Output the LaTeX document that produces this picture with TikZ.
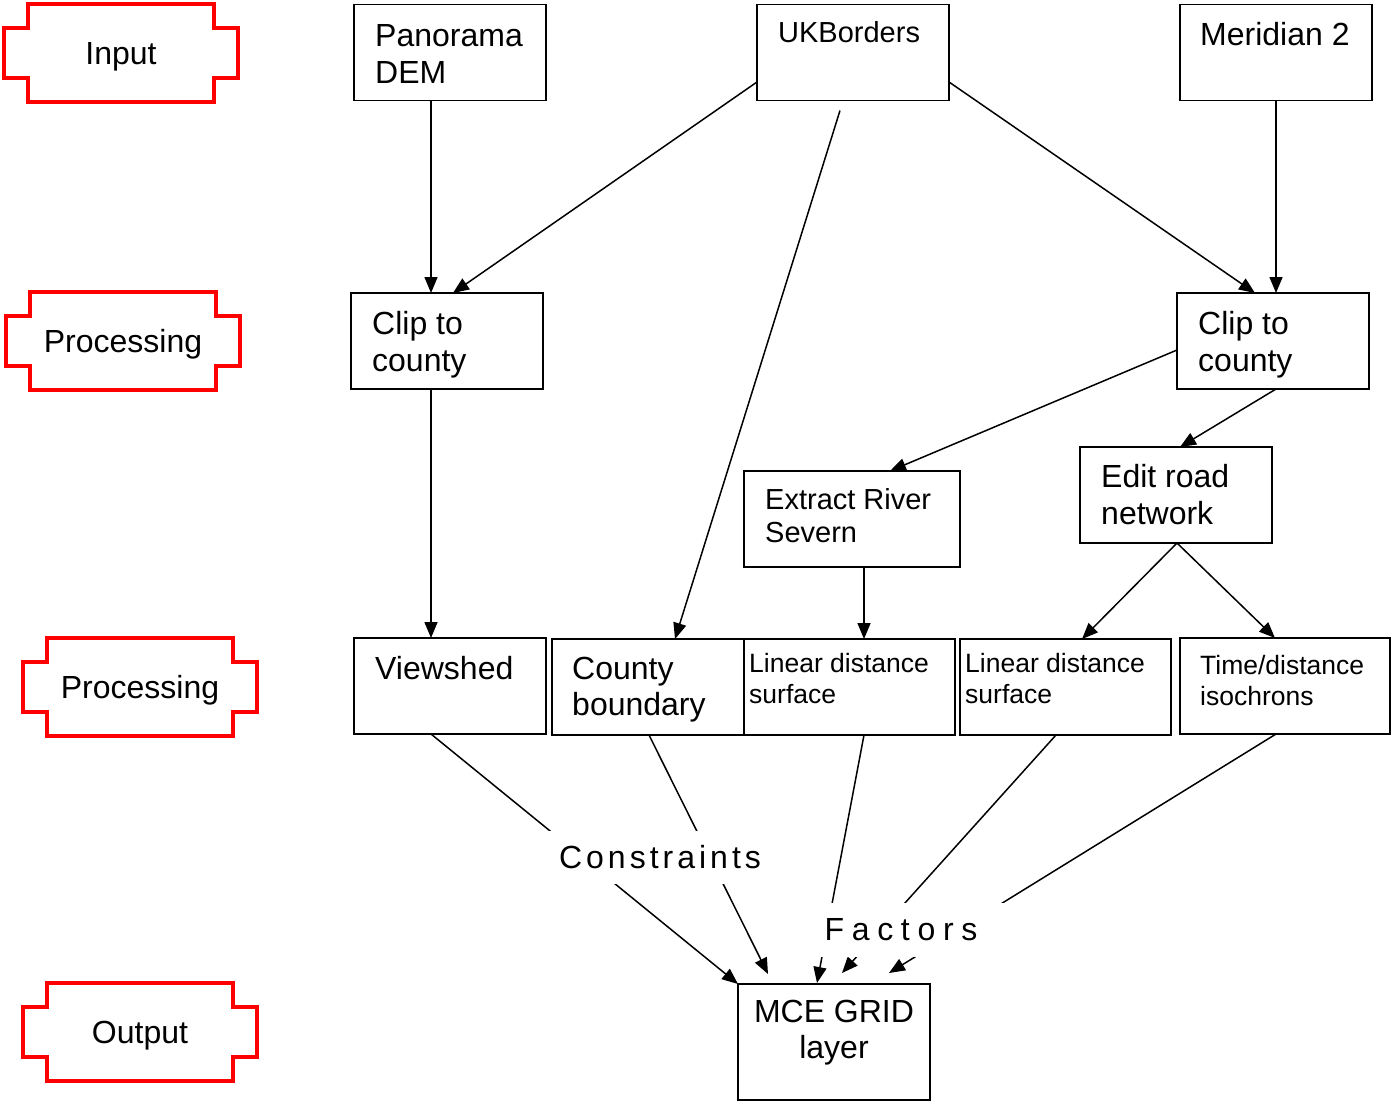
\documentclass[tikz,border=0pt]{standalone}
\usepackage{fontspec}
\setmainfont{Liberation Sans}
\usetikzlibrary{arrows.meta,calc}
\begin{document}
\begin{tikzpicture}[x=1pt,y=-1pt,
  box/.style={draw=black,line width=1.8pt,inner sep=0pt,outer sep=0pt,minimum width=192pt,minimum height=96pt},
  txt/.style={inner sep=0pt,anchor=north west,align=left,font=\fontsize{32}{36.5}\selectfont},
  smalltxt/.style={txt,font=\fontsize{26.5}{31}\selectfont},
  midtxt/.style={txt,font=\fontsize{29}{33}\selectfont},
  conn/.style={line width=1.5pt,draw=black},
  arr/.style={conn,-{Triangle[length=16pt,width=13pt]}},
  stagebox/.style={draw=red,line width=4pt},
  stagetxt/.style={inner sep=0pt,anchor=base,font=\fontsize{32}{36}\selectfont},
  gaplabel/.style={fill=white,inner ysep=0pt,font=\fontsize{32}{36}\selectfont},
  stage/.pic={\draw[stagebox] (-93,-49) -- (93,-49) -- (93,-25) -- (117,-25) -- (117,25) -- (93,25) -- (93,49) -- (-93,49) -- (-93,25) -- (-117,25) -- (-117,-25) -- (-93,-25) -- cycle;}
]
\fill[white] (0,0) rectangle (1391,1101);
\useasboundingbox (0,0) rectangle (1391,1101);

% stage markers
\pic at (121,53) {stage};
\node[stagetxt] (sInput) at (121,64.5) {Input};
\pic at (123,340.5) {stage};
\node[stagetxt] (sProc1) at (123,352) {Processing};
\pic at (140,687) {stage};
\node[stagetxt] (sProc2) at (140,698.5) {Processing};
\pic at (140,1032) {stage};
\node[stagetxt] (sOut) at (140,1043.5) {Output};

% boxes
\node[box] (pano) at (450,52.5) {};
\node[box] (ukb) at (853,52.5) {};
\node[box] (mer) at (1276,52.5) {};
\node[box] (clipL) at (447,341) {};
\node[box] (clipR) at (1273,341) {};
\node[box,minimum width=216pt] (ext) at (852,519) {};
\node[box] (edit) at (1176,495) {};
\node[box] (view) at (450,686) {};
\node[box] (cb) at (648,687) {};
\node[box,minimum width=211pt] (lin1) at (849.5,687) {};
\node[box,minimum width=211pt] (lin2) at (1065.5,687) {};
\node[box,minimum width=210pt] (time) at (1285,686) {};
\node[box,minimum height=116pt] (mce) at (834,1042) {};

% box texts
\node[txt] (tPano) at (375,24.5) {Panorama\\DEM};
\node[midtxt,anchor=base west] (tUkb) at (778,42.5) {UKBorders};
\node[txt,anchor=base west] (tMer) at (1200,45.5) {Meridian 2};
\node[txt] (tClipL) at (372,311.5) {Clip to\\county};
\node[txt] (tClipR) at (1198,311.5) {Clip to\\county};
\node[midtxt] (tExt) at (765,488.5) {Extract River\\Severn};
\node[txt] (tEdit) at (1101,464.5) {Edit road\\network};
\node[txt,anchor=base west] (tView) at (375,679.5) {Viewshed};
\node[txt] (tCb) at (572,656.5) {County\\boundary};
\node[smalltxt] (tLin1) at (749,653.5) {Linear distance\\surface};
\node[smalltxt] (tLin2) at (965,653.5) {Linear distance\\surface};
\node[smalltxt] (tTime) at (1200,655.5) {Time/distance\\isochrons};
\node[txt,anchor=north,align=center] (tMce) at (834,999.5) {MCE GRID\\layer};

% connectors
\draw[arr] ($(pano.south)+(-19,0)$) -- ($(clipL.north)+(-16,0)$);
\draw[arr] ($(ukb.west)+(0,29.5)$) -- ($(clipL.north)+(6,0)$);
\draw[arr] ($(ukb.south)+(-13,10)$) -- ($(cb.north)+(27,0)$);
\draw[arr] ($(ukb.east)+(0,29.5)$) -- ($(clipR.north)+(-18,0)$);
\draw[arr] (mer.south) -- ($(clipR.north)+(3,0)$);
\draw[arr] ($(clipL.south)+(-16,0)$) -- ($(view.north)+(-19,0)$);
\draw[arr] ($(clipR.west)+(0,9)$) -- ($(ext.north)+(38,0)$);
\draw[arr] ($(clipR.south)+(3,0)$) -- ($(edit.north)+(4,0)$);
\draw[arr] ($(ext.south)+(12,0)$) -- ($(lin1.north)+(14.5,0)$);
\draw[arr] ($(edit.south)+(1,0)$) -- ($(lin2.north)+(16.5,0)$);
\draw[arr] ($(edit.south)+(1,0)$) -- ($(time.north)+(-10,0)$);
\draw[arr] ($(view.south)+(-19,0)$) -- (mce.north west);
\draw[arr] ($(cb.south)+(1,0)$) -- ($(mce.north)+(-66,-10)$);
\draw[arr] ($(lin1.south)+(14.5,0)$) -- ($(mce.north)+(-17,-1)$);
\draw[arr] ($(lin2.south)+(-9.5,0)$) -- ($(mce.north)+(8,-11)$);
\draw[arr] ($(time.south)+(-9,0)$) -- ($(mce.north)+(55,-11)$);

% gap labels
\node[gaplabel,minimum height=53pt,inner xsep=14pt] (lConstr) at (660,857.5) {\addfontfeature{LetterSpace=12.5}Constraints};
\node[gaplabel,minimum height=54pt,inner xsep=28pt] (lFact) at (901,929.5) {\addfontfeature{LetterSpace=24}Factors};
\end{tikzpicture}
\end{document}
